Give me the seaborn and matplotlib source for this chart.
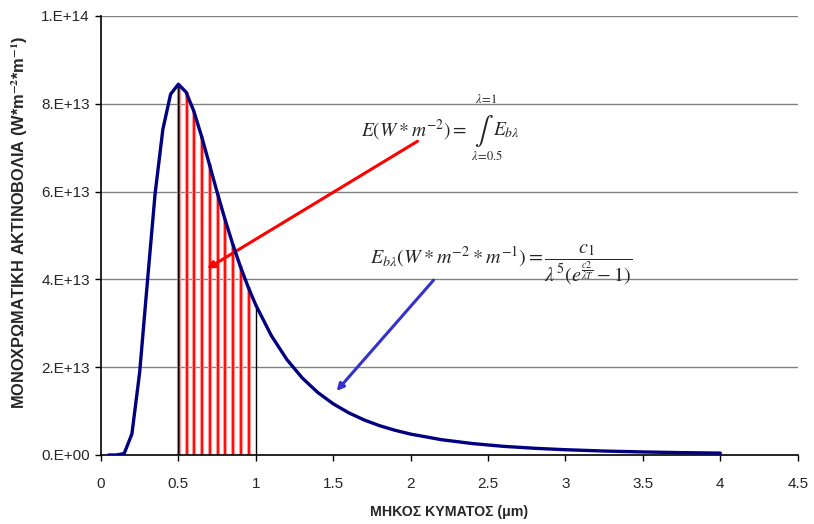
import numpy as np
import pandas as pd
import seaborn as sns
import matplotlib.pyplot as plt

# wavelength (um) and spectral emissive power (x 1e13 W/m^3)
wavelength = [0.05, 0.10, 0.15, 0.20, 0.25, 0.30, 0.35, 0.40, 0.45, 0.50,
              0.55, 0.60, 0.65, 0.70, 0.75, 0.80, 0.85, 0.90, 0.95, 1.00,
              1.1, 1.2, 1.3, 1.4, 1.5, 1.6, 1.7, 1.8, 1.9, 2.0,
              2.2, 2.4, 2.6, 2.8, 3.0, 3.25, 3.5, 3.75, 4.0]
power = [0.0, 0.0, 0.032, 0.48, 1.88, 3.94, 5.96, 7.42, 8.22, 8.445,
         8.265, 7.831, 7.257, 6.626, 5.991, 5.382, 4.816, 4.299, 3.832, 3.417,
         2.722, 2.178, 1.755, 1.425, 1.166, 0.961, 0.798, 0.667, 0.562, 0.476,
         0.348, 0.260, 0.197, 0.153, 0.120, 0.090, 0.069, 0.054, 0.043]
x_ticks = [0, 0.5, 1, 1.5, 2, 2.5, 3, 3.5, 4, 4.5]
y_ticks = [0, 2e13, 4e13, 6e13, 8e13, 1e14]
y_labels = ["0.E+00", "2.E+13", "4.E+13", "6.E+13", "8.E+13", "1.E+14"]
band_lo, band_hi = 0.5, 1.0

df = pd.DataFrame({"lam": wavelength, "E": np.array(power) * 1e13})

sns.set_style("white")
plt.rcParams["font.family"] = ["Liberation Sans", "DejaVu Sans"]
plt.rcParams["mathtext.fontset"] = "stix"

fig = plt.figure(figsize=(8.14, 5.24), dpi=100)
ax = fig.add_axes([0.124, 0.1317, 0.856, 0.8378])

# shaded band 0.5 - 1 um drawn as vertical red strokes
band = df[(df.lam >= band_lo - 1e-9) & (df.lam < band_hi - 1e-9)]
ax.vlines(band.lam + 0.004, 0, band.E, color="#ff9999", lw=3.0, zorder=2)
ax.vlines(band.lam + 0.004, 0, band.E, color="red", lw=1.3, zorder=2)
edges = df[np.isclose(df.lam, band_lo) | np.isclose(df.lam, band_hi)]
ax.vlines(edges.lam, 0, edges.E, color="black", lw=1.0, zorder=3)

sns.lineplot(data=df, x="lam", y="E", ax=ax, color="#000080", lw=2.4, zorder=4)

ax.set_xlim(0, 4.5)
ax.set_ylim(0, 1e14)
ax.set_xticks(x_ticks)
ax.set_xticklabels([f"{t:g}" for t in x_ticks])
ax.set_yticks(y_ticks)
ax.set_yticklabels(y_labels)
ax.tick_params(axis="both", labelsize=11, direction="out", length=4, width=1, color="black")
ax.tick_params(axis="x", bottom=True, pad=12)
ax.tick_params(axis="y", left=True, pad=4)
for t in y_ticks[1:]:
    ax.axhline(t, color="#808080", lw=1.0, zorder=1)

for s in ["top", "right"]:
    ax.spines[s].set_visible(False)
for s in ["left", "bottom"]:
    ax.spines[s].set_color("black")
    ax.spines[s].set_linewidth(1.2)

ax.set_xlabel("ΜΗΚΟΣ ΚΥΜΑΤΟΣ (μm)", fontsize=10.2, fontweight="bold")
ax.xaxis.set_label_coords(0.5, -0.114)
ax.set_ylabel(r"ΜΟΝΟΧΡΩΜΑΤΙΚΗ ΑΚΤΙΝΟΒΟΛΙΑ (W*m$^{\mathbf{-2}}$*m$^{\mathbf{-1}}$)",
              fontsize=11.8, fontweight="bold")
ax.yaxis.set_label_coords(-0.102, 0.53)

# formulas
ax.text(1.68, 7.40e13, r"$E(W*m^{-2}) =$", fontsize=14, va="center", ha="left")
ax.text(2.475, 7.38e13, r"$\int$", fontsize=20, va="center", ha="center")
ax.text(2.53, 7.40e13, r"$E_{b\lambda}$", fontsize=14, va="center", ha="left")
ax.text(2.49, 8.10e13, r"$\lambda\!=\!1$", fontsize=9, va="center", ha="center")
ax.text(2.49, 6.80e13, r"$\lambda\!=\!0.5$", fontsize=9, va="center", ha="center")
ax.text(1.74, 4.33e13,
        r"$E_{b\lambda}(W*m^{-2}*m^{-1}) = \dfrac{c_1}{\lambda^5(e^{\frac{c2}{\lambda T}}-1)}$",
        fontsize=14.5, va="center", ha="left")

ax.annotate("", xy=(0.67, 4.21e13), xytext=(2.06, 7.18e13),
            arrowprops=dict(arrowstyle="-|>", color="red", lw=2.2, mutation_scale=10))
ax.annotate("", xy=(1.51, 1.41e13), xytext=(2.16, 4.03e13),
            arrowprops=dict(arrowstyle="-|>", color="#3333cc", lw=2.2, mutation_scale=10))

fig.savefig("out.png", dpi=100)
